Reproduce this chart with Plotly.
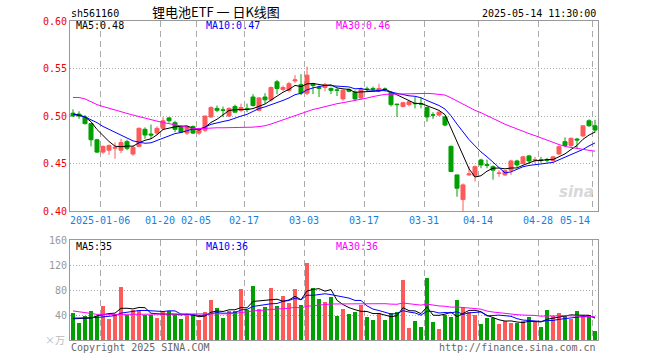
import plotly.graph_objects as go

# ---------------- data ----------------
tick_idx = [5, 15, 21, 29, 39, 49, 59, 68, 78, 87]
tick_labels = ["2025-01-06", "01-20", "02-05", "02-17", "03-03",
               "03-17", "03-31", "04-14", "04-28", "05-14"]

opens = [0.503, 0.502, 0.499, 0.492, 0.475, 0.462, 0.464, 0.466, 0.464, 0.473,
         0.460, 0.468, 0.486, 0.481, 0.482, 0.487, 0.498, 0.493, 0.489, 0.482,
         0.489, 0.482, 0.485, 0.499, 0.508, 0.5065, 0.500, 0.510, 0.506, 0.508,
         0.520, 0.506, 0.520, 0.517, 0.536, 0.528, 0.527, 0.537, 0.533, 0.524,
         0.534, 0.530, 0.530, 0.529, 0.5275, 0.518, 0.528, 0.525, 0.519, 0.5285,
         0.529, 0.526, 0.5285, 0.525, 0.5125, 0.510, 0.512, 0.5135, 0.513, 0.509,
         0.5012, 0.501, 0.499, 0.468, 0.438, 0.412, 0.438, 0.437, 0.4537, 0.449,
         0.4467, 0.4395, 0.438, 0.443, 0.4527, 0.450, 0.458, 0.4535, 0.454, 0.454,
         0.453, 0.460, 0.473, 0.469, 0.4757, 0.479, 0.495, 0.4897]
highs = [0.507, 0.505, 0.501, 0.492, 0.476, 0.469, 0.470, 0.472, 0.476, 0.475,
         0.469, 0.488, 0.488, 0.491, 0.489, 0.499, 0.499, 0.495, 0.490, 0.489,
         0.490, 0.487, 0.500, 0.510, 0.511, 0.510, 0.509, 0.512, 0.513, 0.513,
         0.523, 0.520, 0.524, 0.531, 0.538, 0.532, 0.536, 0.543, 0.544, 0.552,
         0.535, 0.532, 0.535, 0.530, 0.529, 0.528, 0.529, 0.527, 0.530, 0.531,
         0.531, 0.534, 0.530, 0.526, 0.513, 0.515, 0.516, 0.520, 0.519, 0.510,
         0.504, 0.505, 0.500, 0.469, 0.438, 0.429, 0.447, 0.448, 0.455, 0.454,
         0.448, 0.443, 0.443, 0.454, 0.454, 0.458, 0.459, 0.457, 0.457, 0.456,
         0.458, 0.469, 0.4775, 0.4775, 0.477, 0.490, 0.4965, 0.496]
lows = [0.499, 0.497, 0.491, 0.468, 0.461, 0.460, 0.459, 0.455, 0.461, 0.464,
        0.458, 0.467, 0.476, 0.476, 0.480, 0.485, 0.493, 0.483, 0.482, 0.480,
        0.481, 0.480, 0.483, 0.498, 0.504, 0.499, 0.499, 0.504, 0.504, 0.504,
        0.510, 0.505, 0.513, 0.515, 0.523, 0.526, 0.525, 0.535, 0.522, 0.522,
        0.523, 0.520, 0.526, 0.523, 0.521, 0.516, 0.525, 0.516, 0.517, 0.526,
        0.526, 0.525, 0.526, 0.510, 0.499, 0.509, 0.510, 0.508, 0.508, 0.494,
        0.497, 0.500, 0.489, 0.441, 0.415, 0.399, 0.437, 0.431, 0.445, 0.445,
        0.433, 0.436, 0.437, 0.438, 0.446, 0.449, 0.450, 0.450, 0.451, 0.451,
        0.452, 0.459, 0.468, 0.467, 0.466, 0.478, 0.4887, 0.4825]
closes = [0.500, 0.500, 0.492, 0.475, 0.462, 0.468, 0.469, 0.467, 0.472, 0.466,
          0.467, 0.487, 0.480, 0.480, 0.487, 0.495, 0.495, 0.486, 0.483, 0.489,
          0.482, 0.486, 0.500, 0.509, 0.506, 0.506, 0.508, 0.504, 0.509, 0.507,
          0.511, 0.519, 0.517, 0.530, 0.529, 0.530, 0.534, 0.538, 0.524, 0.543,
          0.532, 0.529, 0.533, 0.527, 0.527, 0.527, 0.526, 0.518, 0.528, 0.528,
          0.5285, 0.529, 0.528, 0.512, 0.512, 0.514, 0.515, 0.513, 0.5125, 0.499,
          0.501, 0.504, 0.4905, 0.4415, 0.424, 0.4275, 0.439, 0.4467, 0.4485, 0.448,
          0.443, 0.440, 0.4425, 0.4527, 0.4485, 0.457, 0.4527, 0.454, 0.4535, 0.4535,
          0.457, 0.4677, 0.469, 0.4765, 0.4747, 0.4897, 0.4897, 0.4852]
volumes = [43, 27, 38, 46.5, 39, 54, 34, 41.5, 85, 39.5,
           48.5, 46, 39.5, 40.5, 35, 46, 46, 39.5, 34, 40.5,
           39.5, 32.5, 45.5, 64, 51, 35, 46, 46, 81.6, 48.5,
           86.5, 49, 53, 83, 55, 70, 59.5, 82, 56, 124,
           83, 66, 61.5, 69, 38, 49, 41.6, 44.8, 56, 36.8,
           32, 42.7, 32, 42.7, 44.8, 96, 19.2, 30.4, 20.8, 99.2,
           28.8, 18.1, 39.5, 36.8, 64, 52.3, 44.3, 40, 25.6, 35.2,
           35.2, 25.6, 30, 26.7, 26.7, 30, 36.8, 30, 21, 48,
           38, 43, 38, 34, 46, 40, 40, 15]

# moving-average values at the start of the window (they depend on days not shown)
price_ma5_head = [0.502, 0.501, 0.499, 0.494]
price_ma10_head = [0.502, 0.5005, 0.499, 0.496, 0.493, 0.489, 0.486, 0.483, 0.480]
price_ma30_head = [0.5195, 0.5195, 0.518, 0.515, 0.512, 0.510, 0.508, 0.506, 0.5044, 0.5027,
                   0.501, 0.4992, 0.4975, 0.496, 0.4946, 0.4932, 0.4918, 0.4904, 0.489, 0.4876,
                   0.487, 0.4866, 0.487, 0.4876, 0.4876, 0.4876, 0.4876, 0.4876, 0.4876]
vol_ma5_head = [34, 34, 34.5, 35]
vol_ma10_head = [35, 35, 35, 35.5, 36, 37, 38, 39, 43]
vol_ma30_head = [46.5, 45.5, 44, 42.5, 41, 40.5, 41, 41, 41, 41,
                 41, 41, 41, 41, 41, 41, 41, 41, 41, 41,
                 41.5, 41.5, 41.5, 41.5, 41.5, 41.5, 42, 42.5, 44]

legend_price = ["MA5:0.48", "MA10:0.47", "MA30:0.46"]
legend_vol = ["MA5:35", "MA10:36", "MA30:36"]
price_ticks = [0.40, 0.45, 0.50, 0.55, 0.60]
vol_ticks = [40, 80, 120, 160]


def moving_avg(values, n, head):
    out = list(head)
    for i in range(len(head), len(values)):
        out.append(sum(values[i - n + 1:i + 1]) / n)
    return out


idx = list(range(len(closes)))
pma5 = moving_avg(closes, 5, price_ma5_head)
pma10 = moving_avg(closes, 10, price_ma10_head)
pma30 = moving_avg(closes, 30, price_ma30_head)
vma5 = moving_avg(volumes, 5, vol_ma5_head)
vma10 = moving_avg(volumes, 10, vol_ma10_head)
vma30 = moving_avg(volumes, 30, vol_ma30_head)

UP = "#ff5a5a"
DOWN = "#00a000"
MA_COLORS = ["#000000", "#0000ff", "#ff00ff"]
GRID = "#aaaaaa"
FRAME = "#999999"
MONO = "DejaVu Sans Mono"

# ---------------- geometry ----------------
W, H = 660, 360
ML, MR, MT, MB = 70, 62, 21, 20
PW = W - ML - MR
PH = H - MT - MB


def px(x):
    return (x - ML) / PW


def py(y):
    return (H - MB - y) / PH


fig = go.Figure()

fig.add_trace(go.Candlestick(
    x=idx, open=opens, high=highs, low=lows, close=closes,
    increasing=dict(line=dict(color=UP, width=1), fillcolor=UP),
    decreasing=dict(line=dict(color=DOWN, width=1), fillcolor=DOWN),
    whiskerwidth=0, xaxis="x", yaxis="y", hoverinfo="skip", showlegend=False))

for series, col in zip([pma5, pma10, pma30], MA_COLORS):
    fig.add_trace(go.Scatter(x=idx, y=series, mode="lines",
                             line=dict(color=col, width=1),
                             xaxis="x", yaxis="y", hoverinfo="skip", showlegend=False))

bar_colors = [UP if c >= o else DOWN for o, c in zip(opens, closes)]
fig.add_trace(go.Bar(x=idx, y=volumes, width=0.83, marker=dict(color=bar_colors, line=dict(width=0)),
                     xaxis="x2", yaxis="y2", hoverinfo="skip", showlegend=False))
for series, col in zip([vma5, vma10, vma30], MA_COLORS):
    fig.add_trace(go.Scatter(x=idx, y=series, mode="lines",
                             line=dict(color=col, width=1),
                             xaxis="x2", yaxis="y2", hoverinfo="skip", showlegend=False))

grid_x = [t - 0.5 for t in tick_idx]
xcommon = dict(range=[-0.5, len(closes) - 0.5], tickmode="array", tickvals=grid_x,
               showticklabels=False, ticks="", showgrid=True, gridcolor=GRID,
               griddash="6px,4px", gridwidth=1, zeroline=False,
               showline=True, linecolor=FRAME, linewidth=1, mirror=True,
               fixedrange=True)

fig.update_layout(
    width=W, height=H,
    margin=dict(l=ML, r=MR, t=MT, b=MB),
    paper_bgcolor="white", plot_bgcolor="white",
    boxgap=0.33, boxgroupgap=0, bargap=0,
    xaxis=dict(xcommon, anchor="y", domain=[0, 1], rangeslider=dict(visible=False)),
    xaxis2=dict(xcommon, anchor="y2", domain=[0, 1], matches="x"),
    yaxis=dict(domain=[py(211), 1], range=[0.40, 0.60], tickmode="array",
               tickvals=price_ticks, ticktext=["%.2f" % v for v in price_ticks],
               tickfont=dict(family=MONO, size=10, color="#ee0000"),
               ticks="", showgrid=True, gridcolor=GRID, griddash="1px,2px",
               zeroline=False, showline=True, linecolor=FRAME, mirror=True,
               fixedrange=True),
    yaxis2=dict(domain=[0, py(240)], range=[0, 160], tickmode="array",
                tickvals=vol_ticks, ticktext=[str(v) for v in vol_ticks],
                tickfont=dict(family=MONO, size=10, color="#999999"),
                ticks="", showgrid=True, gridcolor=GRID, griddash="1px,2px",
                zeroline=False, showline=True, linecolor=FRAME, mirror=True,
                fixedrange=True),
    showlegend=False,
)

ann = []
# x tick labels
for i, (t, lab) in enumerate(zip(grid_x, tick_labels)):
    last = i == len(tick_labels) - 1
    ann.append(dict(x=t, xref="x", y=py(221), yref="paper", text=lab, showarrow=False,
                    xanchor="right" if last else "center", yanchor="middle",
                    font=dict(family=MONO, size=10, color="#1480e0")))

# MA legends
leg_x = [74, 204, 334]
for txt, col, x in zip(legend_price, MA_COLORS, leg_x):
    ann.append(dict(x=px(x), xref="paper", y=py(25.5), yref="paper", text=txt, showarrow=False,
                    xanchor="left", yanchor="middle", font=dict(family=MONO, size=10, color=col)))
for txt, col, x in zip(legend_vol, MA_COLORS, leg_x):
    ann.append(dict(x=px(x), xref="paper", y=py(246), yref="paper", text=txt, showarrow=False,
                    xanchor="left", yanchor="middle", font=dict(family=MONO, size=10, color=col)))

# header texts
ann.append(dict(x=px(69), xref="paper", y=py(13), yref="paper", text="sh561160", showarrow=False,
                xanchor="left", yanchor="middle", font=dict(family=MONO, size=10, color="#000000")))
ann.append(dict(x=px(150), xref="paper", y=py(12), yref="paper", text="锂电池ETF\u00a0一\u00a0日K线图",
                showarrow=False, xanchor="left", yanchor="middle",
                font=dict(family="Noto Sans CJK SC", size=13, color="#000000")))
ann.append(dict(x=px(598), xref="paper", y=py(13), yref="paper", text="2025-05-14 11:30:00",
                showarrow=False, xanchor="right", yanchor="middle",
                font=dict(family=MONO, size=10, color="#000000")))

# footer texts
ann.append(dict(x=px(69), xref="paper", y=py(347), yref="paper", text="Copyright 2025 SINA.COM",
                showarrow=False, xanchor="left", yanchor="middle",
                font=dict(family=MONO, size=10, color="#666666")))
ann.append(dict(x=px(598), xref="paper", y=py(347), yref="paper", text="http://finance.sina.com.cn",
                showarrow=False, xanchor="right", yanchor="middle",
                font=dict(family=MONO, size=10, color="#666666")))
ann.append(dict(x=px(67), xref="paper", y=py(339), yref="paper", text="×万",
                showarrow=False, xanchor="right", yanchor="middle",
                font=dict(family="Noto Sans CJK SC", size=10, color="#bbbbbb")))

# watermark
ann.append(dict(x=px(596), xref="paper", y=py(192), yref="paper", text="<i><b>sina</b></i>",
                showarrow=False, xanchor="right", yanchor="middle",
                font=dict(family="DejaVu Sans", size=15, color="#d8d8d8")))

fig.update_layout(annotations=ann)

fig.write_html("out.html", config={"displayModeBar": False},
               post_script="document.body.style.margin='0px';document.body.style.padding='0px';")
